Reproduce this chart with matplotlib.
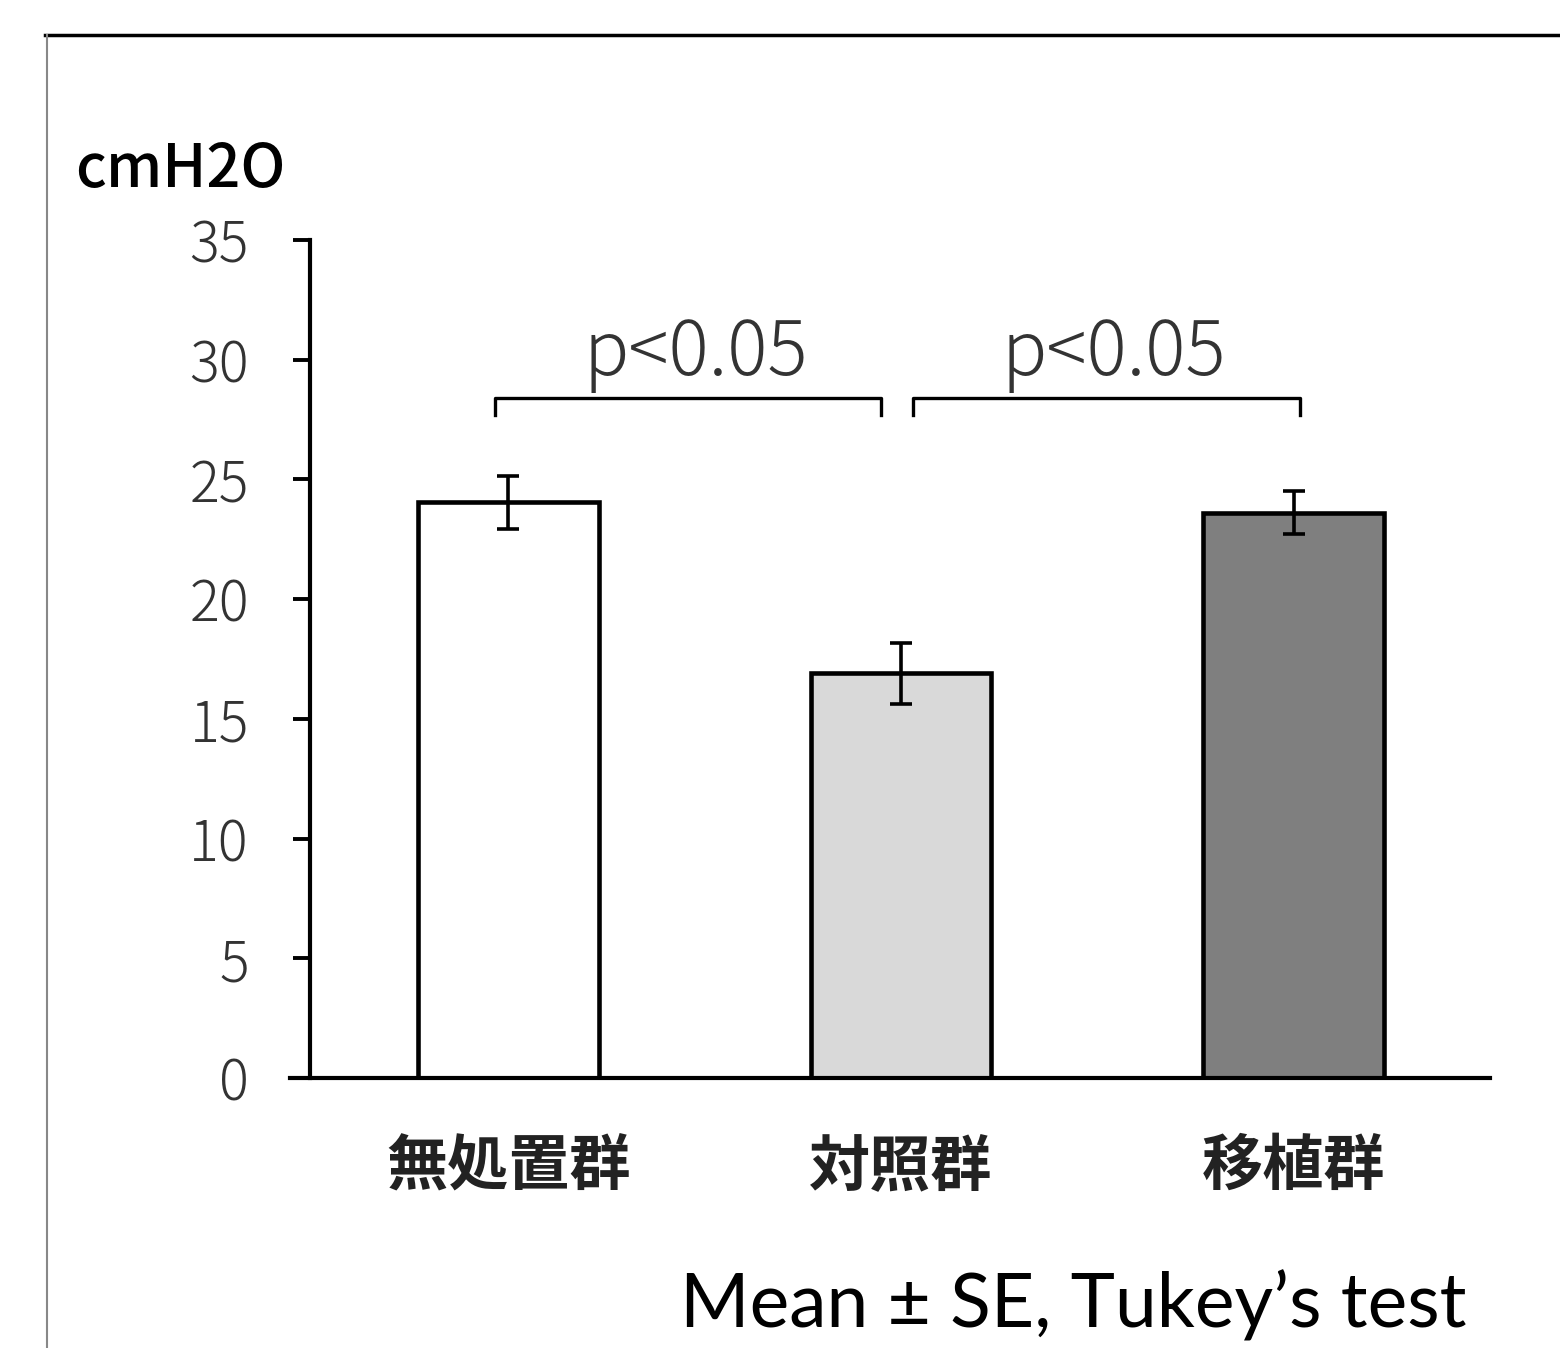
import matplotlib.pyplot as plt
from matplotlib.lines import Line2D

plt.rcParams['font.family'] = ['Noto Sans CJK JP', 'DejaVu Sans']

# データ
groups = ['無処置群', '対照群', '移植群']
means = [24.05, 16.9, 23.6]
se = [1.1, 1.28, 0.9]
bar_colors = ['#ffffff', '#d9d9d9', '#7f7f7f']
y_ticks = [0, 5, 10, 15, 20, 25, 30, 35]
# 有意差の組み合わせ
pairs = [(0, 1), (1, 2)]
p_labels = ['p<0.05', 'p<0.05']

fig = plt.figure(figsize=(15.6, 13.48), dpi=100)

# 外枠（切り取られた枠線）
fig.add_artist(Line2D([45 / 1560, 1.0], [1 - 35 / 1348] * 2, color='black', lw=2.5,
                      transform=fig.transFigure))
fig.add_artist(Line2D([47 / 1560] * 2, [0, 1 - 35 / 1348], color='#888888', lw=1.5,
                      transform=fig.transFigure))

ax = fig.add_axes([310 / 1560, 270 / 1348, 1180 / 1560, 838 / 1348])
x = list(range(len(groups)))
ax.bar(x, means, width=0.46, color=bar_colors, edgecolor='black', linewidth=3.3, zorder=2)
ax.errorbar(x, means, yerr=se, fmt='none', ecolor='black', elinewidth=2.6,
            capsize=8, capthick=2.6, zorder=3)

ax.set_xlim(-0.505, 2.5)
ax.set_ylim(0, 35)
ax.set_yticks(y_ticks)
ax.set_xticks(x)
ax.set_xticklabels(groups, fontsize=44, fontweight='bold', color='#222222')
ax.tick_params(axis='x', length=0, pad=42)
ax.tick_params(axis='y', length=12, width=2.8, direction='out', pad=32,
               labelsize=40, labelcolor='#333333')
for lab in ax.get_yticklabels():
    lab.set_fontweight('light')

for side in ['top', 'right']:
    ax.spines[side].set_visible(False)
ax.spines['left'].set_linewidth(3)
ax.spines['bottom'].set_linewidth(3)
ax.spines['bottom'].set_bounds(-0.555, 2.5)
ax.spines['left'].set_capstyle('projecting')

# 有意差ブラケット
y_top, y_end = 28.4, 27.7
offsets = [(-0.033, 0.949), (1.031, 2.015)]
for (x0, x1), lab in zip(offsets, p_labels):
    ax.plot([x0, x0, x1, x1], [y_end, y_top, y_top, y_end], color='black', lw=2.4,
            clip_on=False)
    ax.text((x0 + x1) / 2 + 0.02, y_top + 0.2, lab, ha='center', va='bottom',
            fontsize=54, color='#333333', fontweight='light')

fig.text(75 / 1560, 1 - 170 / 1348, 'cmH2O', fontsize=43, ha='left', va='center',
         color='black', fontweight='medium')
fig.text(680 / 1560, 1 - 1305 / 1348, 'Mean ± SE, Tukey’s test', fontsize=54,
         ha='left', va='center', family=['Lato', 'Noto Sans CJK JP', 'DejaVu Sans'])

fig.savefig('out.png', dpi=100)
